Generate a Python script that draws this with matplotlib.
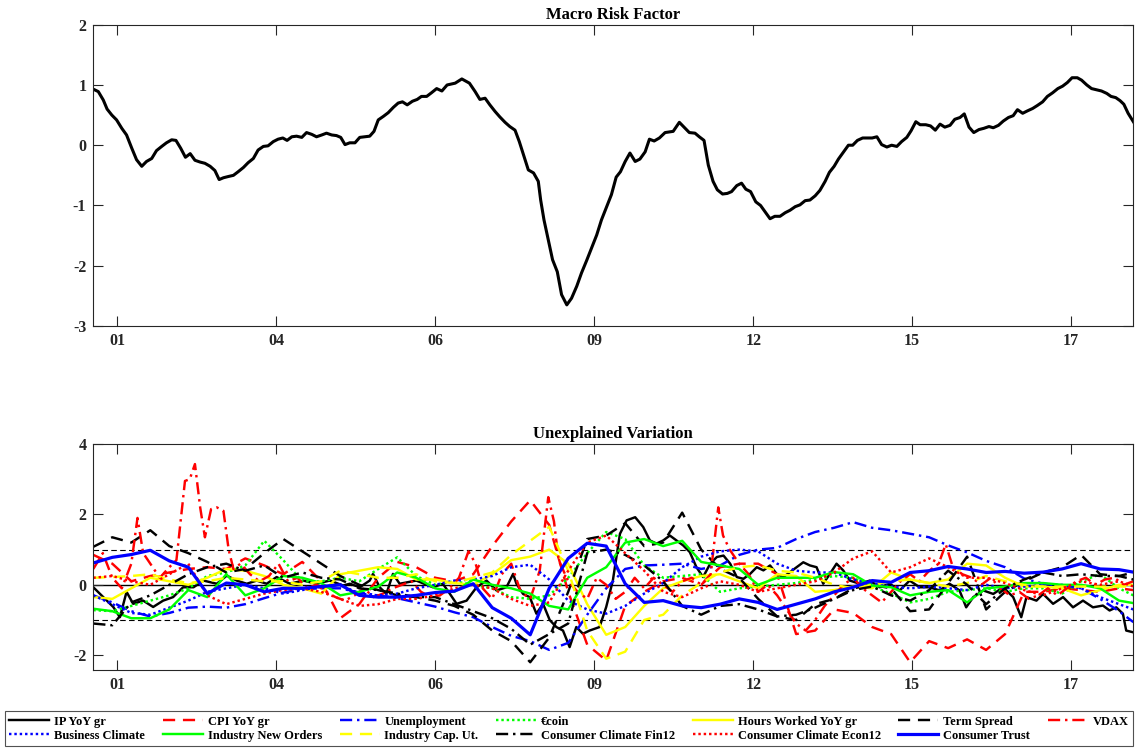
import numpy as np
import matplotlib
matplotlib.use('Agg')
import matplotlib.pyplot as plt

plt.rcParams['font.family'] = 'Liberation Serif'
plt.rcParams['font.weight'] = 'bold'
plt.rcParams['axes.unicode_minus'] = False

# x axis is a month index over the sample (0 .. 219)
X_MAX = 219
tick_pos = [5.05, 38.5, 72.0, 105.5, 139.0, 172.4, 205.9]
tick_labels = ['01', '04', '06', '09', '12', '15', '17']

# ---------- macro risk factor ----------
factor_t = [0.0, 1.05, 2.1, 2.9, 3.9, 4.9, 6.0, 7.0, 8.1, 9.1, 10.2, 11.2, 12.3, 13.3, 14.4,
            15.4, 16.5, 17.4, 18.4, 19.4, 20.4, 21.4, 22.5, 23.5, 24.6, 25.6, 26.5, 27.4,
            28.4, 29.5, 30.5, 31.6, 32.6, 33.7, 34.7, 35.8, 36.8, 37.9, 38.9, 39.9, 40.8,
            41.8, 42.8, 43.9, 44.9, 46.0, 47.0, 48.1, 49.1, 50.2, 51.2, 52.1, 53.0, 54.0,
            55.1, 56.1, 57.2, 58.2, 59.1, 60.0, 61.1, 62.1, 63.2, 64.2, 65.1, 66.1, 67.2,
            68.2, 69.1, 70.2, 71.2, 72.3, 73.4, 74.5, 76.2, 77.6, 79.2, 80.4, 81.4, 82.5,
            83.5, 84.6, 85.6, 86.7, 87.7, 88.8, 89.7, 90.7, 91.6, 92.7, 93.7, 94.2, 94.9,
            95.8, 96.7, 97.7, 98.6, 99.7, 100.7, 101.8, 102.8, 103.9, 104.9, 106.0, 107.0,
            108.1, 109.1, 110.1, 111.0, 112.0, 113.0, 114.1, 115.1, 116.2, 117.1, 118.1,
            119.2, 120.4, 122.1, 123.4, 124.4, 125.5, 126.7, 127.6, 128.6, 129.5, 130.5,
            131.4, 132.5, 133.5, 134.4, 135.5, 136.5, 137.4, 138.4, 139.5, 140.5, 141.4,
            142.5, 143.5, 144.6, 145.7, 146.7, 147.8, 148.8, 149.9, 150.9, 152.0, 153.0,
            154.1, 155.0, 156.0, 156.9, 157.9, 159.0, 159.9, 160.9, 162.0, 163.0, 164.0,
            165.0, 166.0, 167.1, 168.1, 169.2, 170.2, 171.3, 172.2, 173.2, 174.1, 175.3,
            176.3, 177.3, 178.3, 179.3, 180.4, 181.4, 182.5, 183.4, 184.4, 185.4, 186.5,
            187.5, 188.6, 189.5, 190.6, 191.6, 192.7, 193.7, 194.6, 195.7, 196.7, 197.8,
            198.8, 199.9, 200.9, 202.0, 203.1, 204.1, 205.1, 206.1, 207.2, 208.1, 209.2,
            210.2, 211.3, 212.3, 213.4, 214.3, 215.3, 216.2, 217.0, 217.9, 219.0]
factor_v = [0.93, 0.89, 0.75, 0.60, 0.50, 0.42, 0.28, 0.17, -0.05, -0.24, -0.35, -0.27, -0.22,
            -0.09, -0.02, 0.04, 0.09, 0.08, -0.05, -0.20, -0.14, -0.25, -0.28, -0.30, -0.35,
            -0.42, -0.57, -0.54, -0.52, -0.50, -0.44, -0.37, -0.29, -0.22, -0.08, -0.02,
            -0.01, 0.06, 0.10, 0.12, 0.08, 0.14, 0.15, 0.13, 0.21, 0.18, 0.14, 0.17, 0.20,
            0.17, 0.16, 0.13, 0.01, 0.04, 0.04, 0.13, 0.14, 0.15, 0.23, 0.42, 0.48, 0.54,
            0.63, 0.70, 0.72, 0.67, 0.73, 0.76, 0.81, 0.81, 0.87, 0.94, 0.90, 1.00, 1.03,
            1.10, 1.03, 0.89, 0.76, 0.78, 0.67, 0.56, 0.47, 0.38, 0.31, 0.25, 0.06, -0.19,
            -0.41, -0.46, -0.60, -0.91, -1.24, -1.57, -1.90, -2.10, -2.48, -2.65, -2.54,
            -2.34, -2.12, -1.91, -1.71, -1.49, -1.24, -1.02, -0.82, -0.53, -0.44, -0.27,
            -0.13, -0.27, -0.23, -0.11, 0.10, 0.07, 0.12, 0.21, 0.23, 0.38, 0.30, 0.21, 0.20,
            0.14, 0.08, -0.33, -0.60, -0.74, -0.81, -0.80, -0.77, -0.67, -0.63, -0.73, -0.77,
            -0.94, -1.00, -1.10, -1.22, -1.18, -1.18, -1.12, -1.08, -1.02, -0.99, -0.92,
            -0.91, -0.84, -0.75, -0.60, -0.45, -0.35, -0.23, -0.12, 0.00, 0.00, 0.08, 0.12,
            0.12, 0.12, 0.14, 0.01, -0.03, 0.00, -0.02, 0.06, 0.13, 0.24, 0.39, 0.34, 0.34,
            0.32, 0.25, 0.35, 0.30, 0.33, 0.43, 0.46, 0.52, 0.30, 0.21, 0.26, 0.28, 0.31,
            0.29, 0.33, 0.40, 0.46, 0.49, 0.59, 0.53, 0.57, 0.61, 0.66, 0.72, 0.81, 0.87,
            0.94, 0.98, 1.04, 1.12, 1.12, 1.08, 1.00, 0.94, 0.92, 0.90, 0.86, 0.81, 0.79,
            0.74, 0.68, 0.53, 0.39]

# ---------- unexplained variation (every 4th month) ----------
resid_t = list(range(0, 217, 4)) + [219]

cpi_yoy = [0.85, 0.6, 0.1, 0.25, 0.35, 0.45, 0.5, 0.45, 0.75, 0.55, 0.3, 0.65, 0.1, -0.95,
           -0.55, 0.2, 0.65, 0.5, 0.2, 0.1, 0.3, 1.1, 1.8, 2.4, 1.7, -0.2, -1.7, -2.15,
           -0.6, -0.2, 0.1, 0.2, 0.0, 0.5, 0.6, 0.6, 0.3, -1.4, -1.3, -0.7, -0.8,
           -1.2, -1.4, -2.2, -1.6, -1.8, -1.55, -1.85, -1.4, -0.2, -0.2, -0.1, -0.15, -0.2, -0.1, -0.15]
unemployment = [-0.3, -0.5, -0.75, -0.9, -0.8, -0.65, -0.62, -0.65, -0.55, -0.38, -0.22, -0.12, -0.1, -0.1,
                -0.22, -0.3, -0.38, -0.5, -0.62, -0.78, -0.92, -1.2, -1.45, -1.6, -1.85, -1.65, -0.85, -0.1,
                0.45, 0.55, 0.57, 0.6, 0.45, 0.55, 0.85, 1.0, 1.05, 1.3, 1.5, 1.62, 1.78,
                1.62, 1.55, 1.45, 1.35, 1.12, 0.92, 0.68, 0.5, 0.18, 0.03, -0.02, -0.1, -0.4, -0.75, -1.06]
ecoin = [-0.72, -0.75, -0.6, -0.45, -0.3, -0.1, 0.25, 0.35, 0.55, 1.25, 0.7, 0.1, 0.1, 0.2,
         0.1, 0.45, 0.78, 0.25, 0.0, 0.1, 0.0, -0.1, -0.35, -0.4, -0.3, 0.2, 0.9, 1.5,
         1.3, 0.55, 0.2, 0.25, 0.3, -0.2, -0.1, -0.05, 0.0, 0.05, 0.15, 0.25, 0.2,
         -0.05, -0.25, -0.5, -0.4, -0.2, -0.15, -0.1, -0.2, -0.1, -0.1, -0.25, 0.1, 0.3, -0.1, -0.3]
hours_worked = [-0.35, -0.4, -0.1, 0.2, 0.1, 0.0, 0.2, 0.45, 0.4, 0.25, 0.0, -0.1, -0.25, 0.3,
                0.4, 0.5, 0.45, 0.15, 0.15, 0.05, 0.0, 0.3, 0.7, 0.8, 1.0, 0.6, -0.55, -1.42,
                -1.2, -0.6, -0.1, 0.1, 0.25, 0.3, 0.1, -0.1, 0.3, 0.25, -0.2, -0.15, -0.05,
                -0.1, 0.35, 0.15, 0.05, 0.15, 0.6, 0.55, 0.2, -0.05, -0.05, -0.1, -0.3, -0.15, 0.0, 0.0]
term_spread = [1.08, 1.35, 1.2, 1.55, 1.1, 0.9, 0.65, 0.35, 0.45, 0.9, 1.3, 0.95, 0.6, 0.25,
               0.0, -0.15, -0.3, -0.35, -0.45, -0.6, -0.85, -1.3, -1.6, -2.2, -1.5, -0.2, 1.3, 1.4,
               1.75, 1.1, 1.2, 2.05, 1.0, 0.45, 0.2, -0.4, -0.9, -1.0, -0.55, -0.4, -0.1,
               0.0, -0.1, -0.75, -0.7, 0.05, 0.8, -0.7, -0.2, 0.1, 0.35, 0.5, 0.85, 0.3, 0.25, 0.35]
business_climate = [-0.3, -0.55, -0.8, -0.85, -0.65, -0.45, -0.2, -0.1, 0.0, -0.1, -0.25, -0.15, -0.05, 0.0,
                    -0.25, -0.3, -0.25, -0.1, 0.0, 0.12, 0.15, 0.25, 0.5, 0.57, 0.15, -0.45, -0.7, -0.82,
                    -0.6, -0.25, 0.05, 0.5, 0.8, 0.95, 1.0, 0.95, 0.6, 0.4, 0.35, 0.35, 0.15,
                    0.05, -0.05, -0.1, -0.05, -0.1, -0.15, 0.0, -0.1, -0.05, 0.0, 0.0, -0.1, -0.35, -0.55, -0.7]
new_orders = [-0.68, -0.75, -0.95, -0.95, -0.7, -0.15, -0.35, 0.3, -0.3, -0.1, 0.25, 0.2, 0.05, -0.3,
              -0.2, -0.05, 0.35, 0.2, -0.1, -0.2, 0.15, 0.0, -0.1, -0.25, -0.6, -0.7, 0.2, 0.5,
              1.2, 1.3, 1.1, 1.25, 0.65, 0.55, 0.45, 0.0, 0.2, 0.2, 0.2, 0.36, 0.3,
              -0.02, -0.07, -0.3, -0.2, -0.15, -0.5, -0.1, -0.05, 0.05, 0.05, 0.0, 0.0, -0.1, -0.45, -0.52]
cap_util = [0.2, 0.22, 0.25, 0.3, 0.15, 0.05, 0.1, 0.2, 0.15, 0.1, 0.1, 0.0, 0.1, 0.4,
            0.3, 0.2, 0.2, 0.3, 0.1, 0.05, 0.2, 0.35, 0.85, 1.25, 1.65, 0.4, -1.3, -2.1,
            -1.9, -1.0, -0.85, -0.3, 0.05, 0.35, 0.5, 0.55, 0.4, 0.35, 0.2, 0.0, -0.1,
            0.0, 0.1, 0.15, 0.05, -0.05, 0.05, 0.25, 0.1, 0.0, -0.05, -0.05, -0.05, -0.05, -0.05, -0.05]
climate_fin12 = [-1.1, -1.15, -0.5, -0.3, 0.0, 0.3, 0.5, 0.6, 0.4, 0.55, 0.2, 0.35, 0.2, 0.15,
                 -0.1, -0.15, -0.25, -0.35, -0.35, -0.55, -0.75, -0.95, -1.25, -1.7, -1.4, -1.1, 0.9, 1.0,
                 0.85, 0.55, 0.1, -0.6, -0.85, -0.6, -0.55, -0.7, -0.9, -0.85, -0.65, -0.4, -0.15,
                 -0.05, -0.3, -0.45, -0.15, 0.4, 0.0, -0.55, -0.1, 0.15, 0.35, 0.25, 0.3, 0.25, 0.25, 0.15]
climate_econ12 = [0.2, 0.25, 0.1, 0.0, 0.3, 0.6, -0.3, -0.55, -0.4, -0.25, -0.15, -0.1, -0.2, -0.4,
                  -0.6, -0.55, -0.4, -0.4, -0.3, -0.1, 0.0, -0.1, -0.4, -0.6, -0.5, 0.4, 1.2, 1.4,
                  0.9, 0.4, -0.2, -0.35, -0.1, 0.1, 0.0, -0.2, -0.1, 0.0, 0.1, 0.35, 0.75,
                  0.95, 0.35, 0.5, 0.75, 0.5, 0.2, 0.2, 0.05, -0.15, -0.3, -0.1, 0.1, 0.0, 0.1, -0.05]
consumer_trust = [0.62, 0.78, 0.86, 0.98, 0.68, 0.5, -0.25, 0.05, 0.0, -0.2, -0.1, -0.1, -0.05, 0.0,
                  -0.3, -0.35, -0.35, -0.3, -0.22, -0.18, 0.03, -0.65, -0.95, -1.42, -0.1, 0.75, 1.18, 1.1,
                  0.03, -0.5, -0.45, -0.6, -0.65, -0.55, -0.4, -0.5, -0.7, -0.55, -0.4, -0.2, -0.07,
                  0.12, 0.07, 0.35, 0.4, 0.52, 0.45, 0.35, 0.38, 0.33, 0.36, 0.45, 0.6, 0.45, 0.43, 0.36]

# IP growth is jagged, read at roughly bi-monthly points
ip_t = [0, 2.1, 4.2, 5.6, 7.0, 8.4, 10.5, 12.6, 14.7, 16.8, 18.9, 21.1, 23.2, 26.0, 28.1, 30.2,
        32.3, 34.4, 36.5, 38.6, 41.4, 44.2, 47.0, 49.8, 52.6, 54.0, 56.1, 58.2, 58.9, 60.3, 61.7,
        63.1, 64.5, 68.0, 71.5, 73.6, 75.1, 76.5, 78.6, 80.7, 82.8, 84.9, 87.0, 88.4, 89.1, 90.5,
        91.9, 93.3, 94.7, 96.1, 97.5, 98.9, 100.3, 101.7, 103.1, 104.5, 106.6, 108.0, 109.4,
        110.9, 112.3, 114.1, 115.8, 117.2, 118.6, 120.0, 121.4, 122.8, 124.2, 125.6, 127.0,
        128.4, 129.9, 131.3, 132.7, 134.1, 135.5, 136.9, 138.3, 139.7, 141.1, 142.5, 143.9,
        145.3, 146.7, 148.1, 149.5, 150.9, 152.3, 153.7, 155.1, 156.5, 157.9, 159.3, 161.4,
        163.5, 165.6, 167.7, 169.8, 171.9, 174.0, 176.1, 178.2, 180.3, 182.4, 183.8, 185.3,
        187.4, 189.5, 191.6, 193.7, 195.4, 196.5, 198.6, 200.0, 202.1, 204.2, 206.3, 208.4,
        210.5, 212.6, 214.0, 215.4, 216.8, 217.5, 219.0]
ip_yoy = [-0.07, -0.35, -0.63, -0.92, -0.2, -0.54, -0.45, -0.63, -0.45, -0.35, -0.07, -0.07,
          0.12, 0.03, 0.26, 0.12, 0.03, 0.12, 0.03, 0.22, 0.03, 0.12, 0.03, 0.12, -0.02, 0.03,
          -0.07, 0.12, 0.31, -0.07, -0.26, 0.31, 0.03, 0.12, -0.07, 0.03, -0.26, -0.54, -0.45,
          -0.07, 0.12, -0.16, -0.07, 0.31, 0.03, -0.26, -0.35, -0.82, -0.54, -1.0, -1.2, -1.3,
          -1.77, -1.2, -1.39, -1.3, -1.2, -0.63, 0.12, 1.45, 1.83, 1.92, 1.64, 1.26, 1.17, 1.26,
          1.4, 1.26, 1.12, 0.93, 0.5, 0.22, 0.6, 0.79, 0.83, 0.6, 0.22, 0.17, 0.31, 0.5, 0.41,
          0.55, 0.31, 0.22, 0.36, 0.5, 0.64, 0.55, 0.5, 0.03, 0.31, 0.6, 0.41, 0.12, 0.03, 0.12,
          -0.07, 0.03, -0.16, 0.12, -0.07, -0.07, -0.16, 0.03, -0.16, -0.64, -0.35, -0.16, -0.26,
          -0.07, -0.35, -0.92, -0.35, -0.45, -0.26, -0.54, -0.35, -0.64, -0.45, -0.64, -0.59,
          -0.73, -0.64, -0.82, -1.3, -1.35]

# VDAX has short-lived spikes, so it keeps its own (denser) time points
vdax_t = [0, 2, 4, 6, 8, 9.3, 10.5, 12, 14, 16, 17.5, 19.3, 20.3, 21.4, 22.5, 23.5, 24.8, 26,
          27.4, 28.5, 29.5, 31, 33, 35, 37, 39, 41, 43, 45, 47, 49, 51, 53, 55, 57, 59, 61,
          63, 65, 67, 69, 71, 73, 75, 77, 79, 80.5, 82, 84, 86, 88, 90, 92, 94, 95.8, 97, 98,
          100, 102, 104, 106, 108, 110, 112, 114, 116, 118, 120, 122, 124, 126, 128, 130,
          131.6, 132.6, 134, 136, 138, 140, 142, 144, 146, 148, 150, 152, 154, 156, 158, 160,
          162, 164, 166, 168, 170, 172, 174, 176, 178, 179.5, 181, 183, 185, 187, 189, 191,
          193, 195, 197, 199, 201, 203, 205, 207, 209, 211, 213, 215, 217, 219]
vdax = [0.45, 0.9, 0.2, -0.1, 0.6, 1.9, 0.9, 0.6, 0.2, 0.5, 0.7, 2.95, 3.0, 3.43, 2.2, 1.35, 2.15,
        2.2, 2.1, 1.0, 0.45, 0.6, 0.3, 0.1, 0.25, 0.6, 0.1, 0.2, -0.1, 0.0, -0.2, -0.35, -0.45,
        -0.3, -0.1, -0.35, -0.25, -0.1, 0.0, 0.1, -0.2, -0.35, -0.3, -0.1, 0.2, 0.95, 0.6, -0.1,
        -0.4, 0.3, 0.6, -0.2, -0.4, 0.4, 2.49, 1.8, 0.7, 0.1, -0.2, -0.4, 0.2, 0.0, -0.4, -0.2,
        0.2, -0.1, 0.2, 0.0, -0.2, 0.1, 0.2, 0.0, 0.3, 2.2, 1.4, 1.0, 0.6, 0.3, -0.2, 0.0, -0.3,
        -0.7, -1.1, -1.3, -1.0, -0.6, -0.3, 0.0, 0.2, -0.1, -0.3, -0.5, -0.2, 0.1, 0.3, 0.1,
        0.4, 0.6, 1.15, 0.5, 0.3, 0.2, 0.0, 0.2, -0.1, -0.3, -0.2, -0.4, -0.3, -0.1, -0.3, -0.1,
        0.1, 0.2, 0.0, 0.15, 0.2, 0.0, 0.1]

# line styles in the spirit of '-', '--', '-.', ':'
SOLID = '-'
DASHED = (0, (5.0, 3.2))
DASHDOT = (0, (5, 2, 1, 2))
DOTTED = (0, (1, 1.2))
LW = 1.75

series = [
    ('IP YoY gr', ip_t, ip_yoy, 'k', SOLID, LW),
    ('CPI YoY gr', resid_t, cpi_yoy, 'r', DASHED, LW),
    ('Unemployment', resid_t, unemployment, 'b', DASHDOT, LW),
    ('€coin', resid_t, ecoin, '#00ff00', DOTTED, LW),
    ('Hours Worked YoY gr', resid_t, hours_worked, '#ffff00', SOLID, LW),
    ('Term Spread', resid_t, term_spread, 'k', DASHED, LW),
    ('VDAX', vdax_t, vdax, 'r', DASHDOT, LW),
    ('Business Climate', resid_t, business_climate, 'b', DOTTED, LW),
    ('Industry New Orders', resid_t, new_orders, '#00ff00', SOLID, LW),
    ('Industry Cap. Ut.', resid_t, cap_util, '#ffff00', DASHED, LW),
    ('Consumer Climate Fin12', resid_t, climate_fin12, 'k', DASHDOT, LW),
    ('Consumer Climate Econ12', resid_t, climate_econ12, 'r', DOTTED, LW),
    ('Consumer Trust', resid_t, consumer_trust, 'b', SOLID, 2.3),
]

AX_COLOR = '#262626'


def style_axes(ax, yticks):
    ax.set_xlim(0, X_MAX)
    ax.set_xticks(tick_pos)
    ax.set_xticklabels(tick_labels)
    ax.set_yticks(yticks)
    ax.set_yticklabels([str(t) for t in yticks])
    ax.tick_params(direction='in', length=7.5, width=0.8, top=True, right=True,
                   colors=AX_COLOR, labelsize=11.5, pad=5)
    for s in ax.spines.values():
        s.set_color(AX_COLOR)
        s.set_linewidth(0.8)


fig = plt.figure(figsize=(11.38, 7.49), dpi=100)

ax1 = fig.add_axes([0.0820, 0.5648, 0.9139, 0.4022])
ax1.plot(factor_t, factor_v, color='k', lw=2.2)
ax1.set_ylim(-3, 2)
style_axes(ax1, [-3, -2, -1, 0, 1, 2])
ax1.set_title('Macro Risk Factor', fontsize=12, fontweight='bold', pad=4)

ax2 = fig.add_axes([0.0820, 0.1055, 0.9139, 0.3017])
ax2.axhline(0, color='k', lw=1.0, zorder=1)
ax2.axhline(1, color='k', lw=0.8, ls=(0, (5, 3)), zorder=1)
ax2.axhline(-1, color='k', lw=0.8, ls=(0, (5, 3)), zorder=1)
handles = []
for label, t, v, c, ls, lw in series:
    h, = ax2.plot(t, v, color=c, ls=ls, lw=lw, label=label, zorder=2)
    handles.append(h)
ax2.set_ylim(-2.42, 4)
style_axes(ax2, [-2, 0, 2, 4])
ax2.set_title('Unexplained Variation', fontsize=12, fontweight='bold', pad=4)

# legend reads row by row: 7 entries on top, 6 below
order = [0, 7, 1, 8, 2, 9, 3, 10, 4, 11, 5, 12, 6]
leg = fig.legend([handles[i] for i in order], [series[i][0] for i in order],
                 loc='lower left', bbox_to_anchor=(5 / 1138, 3 / 749, 1128 / 1138, 37 / 749),
                 mode='expand', ncol=7, fontsize=9, frameon=True, fancybox=False,
                 handlelength=3.2, handletextpad=0.4, columnspacing=1.0,
                 labelspacing=0.15, borderpad=0.35, borderaxespad=0)
leg.get_frame().set_edgecolor(AX_COLOR)
leg.get_frame().set_linewidth(0.8)
for txt in leg.get_texts():
    txt.set_fontweight('bold')

fig.savefig('out.png', dpi=100)
